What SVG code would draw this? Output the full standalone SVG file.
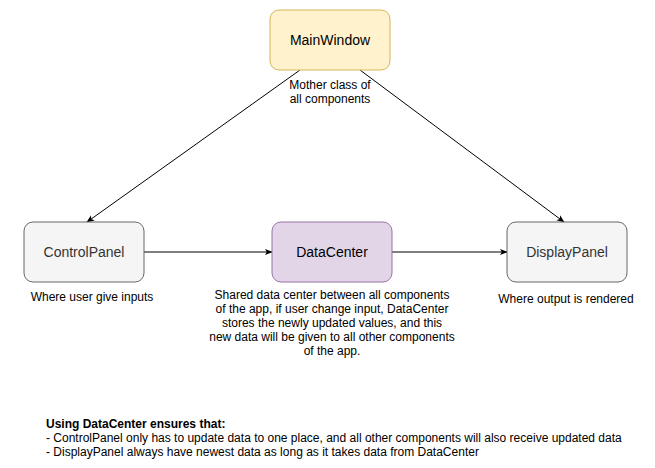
<svg xmlns="http://www.w3.org/2000/svg" width="655" height="468" viewBox="0 0 655 468">
<defs>
<marker id="arr" viewBox="0 0 10 10" refX="9" refY="5" markerWidth="8" markerHeight="8" markerUnits="userSpaceOnUse" orient="auto">
<path d="M0,1 L10,5 L0,9 L2.5,5 Z" fill="#000"/>
</marker>
<style>
text{font-family:"Liberation Sans",Arial,sans-serif;}
.lbl{font-size:14px;text-anchor:middle;}
.note{font-size:12px;text-anchor:middle;fill:#000;}
.foot{font-size:12px;fill:#000;}
.edge{stroke:#000;stroke-width:1;fill:none;marker-end:url(#arr);}
</style>
</defs>
<rect width="655" height="468" fill="#fff"/>
<g id="connectors">
<path class="edge" d="M300,70 L87,222"/>
<path class="edge" d="M360,70 L564,222"/>
<path class="edge" d="M144,252 L272,252"/>
<path class="edge" d="M392,252 L507,252"/>
</g>
<g id="MainWindow">
<rect x="270" y="10" width="120" height="60" rx="9" fill="#fff2cc" stroke="#d6b656"/>
<text class="lbl" x="330" y="45" fill="#000">MainWindow</text>
</g>
<g id="MainWindowNote">
<text class="note" x="330" y="89">Mother class of</text>
<text class="note" x="330" y="103">all components</text>
</g>
<g id="ControlPanel">
<rect x="24" y="222" width="120" height="60" rx="9" fill="#f5f5f5" stroke="#666666"/>
<text class="lbl" x="84" y="257" fill="#333333">ControlPanel</text>
</g>
<g id="ControlPanelNote">
<text class="note" x="92" y="301">Where user give inputs</text>
</g>
<g id="DataCenter">
<rect x="272" y="222" width="120" height="60" rx="9" fill="#e1d5e7" stroke="#9673a6"/>
<text class="lbl" x="332" y="257" fill="#000">DataCenter</text>
</g>
<g id="DataCenterNote">
<text class="note" x="332" y="299">Shared data center between all components</text>
<text class="note" x="332" y="313">of the app, if user change input, DataCenter</text>
<text class="note" x="332" y="327">stores the newly updated values, and this</text>
<text class="note" x="332" y="341">new data will be given to all other components</text>
<text class="note" x="332" y="355">of the app.</text>
</g>
<g id="DisplayPanel">
<rect x="507" y="222" width="120" height="60" rx="9" fill="#f5f5f5" stroke="#666666"/>
<text class="lbl" x="567" y="257" fill="#333333">DisplayPanel</text>
</g>
<g id="DisplayPanelNote">
<text class="note" x="566" y="303">Where output is rendered</text>
</g>
<g id="Footer">
<text class="foot" x="46" y="428" font-weight="bold">Using DataCenter ensures that:</text>
<text class="foot" x="46" y="442">- ControlPanel only has to update data to one place, and all other components will also receive updated data</text>
<text class="foot" x="46" y="456">- DisplayPanel always have newest data as long as it takes data from DataCenter</text>
</g>
</svg>
